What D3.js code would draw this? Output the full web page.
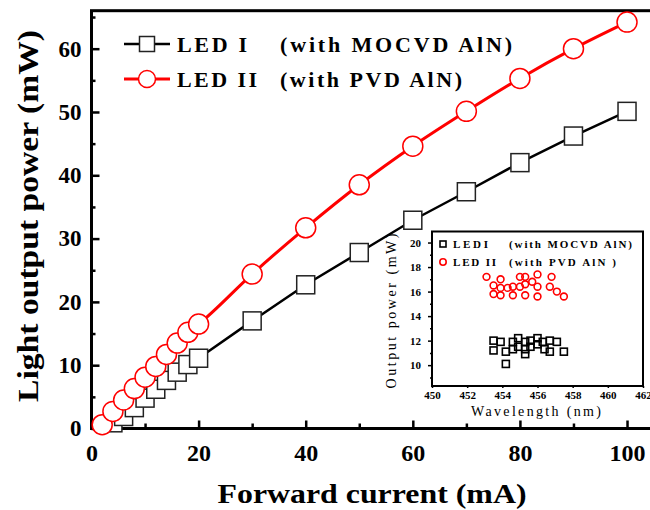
<!DOCTYPE html>
<html lang="en">
<head>
<meta charset="UTF-8">
<title>LED output power</title>
<style>
  body { margin: 0; background: #fff; }
  svg text { font-family: "Liberation Serif", "Times New Roman", "DejaVu Serif", serif; fill: #000; }
  .tick text { font-weight: bold; }
</style>
</head>
<body>
<svg id="chart"></svg>
<script src="https://cdnjs.cloudflare.com/ajax/libs/d3/7.8.5/d3.min.js"></script>
<script>
// main plot data
const currentI = [4, 6, 8, 10, 12, 14, 16, 18, 20, 30, 40, 50, 60, 70, 80, 90, 100];
const powerI = [0.9, 1.9, 3.3, 4.8, 6.2, 7.6, 8.9, 10.1, 11.1, 17.0, 22.7, 27.8, 32.9, 37.4, 42.0, 46.2, 50.1];
const currentII = [2, 4, 6, 8, 10, 12, 14, 16, 18, 20, 30, 40, 50, 60, 70, 80, 90, 100];
const powerII = [0.6, 2.7, 4.5, 6.3, 8.1, 9.8, 11.7, 13.5, 15.2, 16.5, 24.4, 31.7, 38.5, 44.6, 50.1, 55.3, 60.0, 64.2];
const seriesNames = ["LED I", "LED II"];
const seriesNotes = ["(with MOCVD AlN)", "(with PVD AlN)"];
const xTicks = [0, 20, 40, 60, 80, 100];
const yTicks = [0, 10, 20, 30, 40, 50, 60];

// inset data
const wlI = [453.5, 453.5, 453.9, 454.2, 454.2, 454.6, 454.6, 454.9, 454.9, 455.3, 455.3, 455.3, 455.6, 455.6, 456.0, 456.0, 456.3, 456.4, 456.7, 456.7, 457.1, 457.5];
const pI = [12.0, 11.2, 11.9, 10.1, 11.1, 11.9, 11.3, 12.2, 11.5, 11.9, 11.3, 10.9, 12.0, 11.5, 12.2, 11.7, 11.9, 11.3, 12.0, 11.1, 11.9, 11.1];
const wlII = [453.1, 453.5, 453.9, 453.5, 453.9, 453.9, 454.3, 454.6, 454.6, 455.0, 455.0, 455.3, 455.3, 455.3, 455.7, 456.0, 456.0, 456.0, 456.8, 456.7, 457.1, 457.5];
const pII = [17.2, 16.5, 17.0, 15.8, 15.7, 16.3, 16.3, 16.4, 15.7, 17.2, 16.4, 17.2, 16.6, 15.7, 16.8, 17.4, 16.4, 15.6, 17.2, 16.4, 16.0, 15.6];
const insetNames = ["LEDI", "LED II"];
const insetNotes = ["(with MOCVD AlN)", "(with PVD AlN )"];
const insetXTicks = [450, 452, 454, 456, 458, 460, 462];
const insetYTicks = [10, 12, 14, 16, 18, 20];

const W = 650, H = 510;
const red = "#ff0000";
const serif = "'Liberation Serif', 'Times New Roman', 'DejaVu Serif', serif";

const svg = d3.select("#chart").attr("width", W).attr("height", H);
svg.append("rect").attr("width", W).attr("height", H).attr("fill", "#fff");

const x = d3.scaleLinear().domain([0, 105]).range([91.5, 653.8]);
const y = d3.scaleLinear().domain([0, 66]).range([428.5, 10.7]);

// frame
svg.append("rect")
  .attr("x", x(0)).attr("y", y(66))
  .attr("width", x(105) - x(0)).attr("height", y(0) - y(66))
  .attr("fill", "none").attr("stroke", "#000").attr("stroke-width", 3);

// minor ticks
svg.append("g").attr("transform", `translate(0,${y(0)})`)
  .call(d3.axisBottom(x).tickValues([10, 30, 50, 70, 90]).tickSize(-5).tickFormat(""))
  .call(g => g.select(".domain").remove())
  .selectAll("line").attr("stroke-width", 2.5);
svg.append("g").attr("transform", `translate(${x(0)},0)`)
  .call(d3.axisLeft(y).tickValues([5, 15, 25, 35, 45, 55, 65]).tickSize(-4).tickFormat(""))
  .call(g => g.select(".domain").remove())
  .selectAll("line").attr("stroke-width", 2.5);

// major ticks + labels
svg.append("g").attr("transform", `translate(0,${y(0)})`)
  .call(d3.axisBottom(x).tickValues(xTicks).tickSize(-8).tickPadding(15))
  .call(g => g.attr("font-family", serif))
  .call(g => g.select(".domain").remove())
  .call(g => g.selectAll("line").attr("stroke-width", 2.5))
  .call(g => g.selectAll("text").attr("font-size", 24));
svg.append("g").attr("transform", `translate(${x(0)},0)`)
  .call(d3.axisLeft(y).tickValues(yTicks).tickSize(-8).tickPadding(10))
  .call(g => g.attr("font-family", serif))
  .call(g => g.select(".domain").remove())
  .call(g => g.selectAll("line").attr("stroke-width", 2.5))
  .call(g => g.selectAll("text").attr("font-size", 23));

// axis titles
svg.append("text")
  .attr("x", 372).attr("y", 503)
  .attr("text-anchor", "middle")
  .attr("font-size", 27).attr("font-weight", "bold")
  .attr("textLength", 309).attr("lengthAdjust", "spacingAndGlyphs")
  .text("Forward current (mA)");
svg.append("text")
  .attr("transform", "translate(38,216) rotate(-90)")
  .attr("text-anchor", "middle")
  .attr("font-size", 30).attr("font-weight", "bold")
  .attr("textLength", 372).attr("lengthAdjust", "spacingAndGlyphs")
  .text("Light output power (mW)");

// series
const dataI = currentI.map((c, i) => ({ x: c, y: powerI[i] }));
const dataII = currentII.map((c, i) => ({ x: c, y: powerII[i] }));

svg.append("path").datum(dataI)
  .attr("fill", "none").attr("stroke", "#000").attr("stroke-width", 2.5)
  .attr("d", d3.line().x(d => x(d.x)).y(d => y(d.y)));

const sq = 18;
svg.append("g").selectAll("rect").data(dataI).join("rect")
  .attr("x", d => x(d.x) - sq / 2).attr("y", d => y(d.y) - sq / 2)
  .attr("width", sq).attr("height", sq)
  .attr("fill", "#fff").attr("stroke", "#222").attr("stroke-width", 1.5);

svg.append("path").datum(dataII)
  .attr("fill", "none").attr("stroke", red).attr("stroke-width", 3)
  .attr("d", d3.line().curve(d3.curveMonotoneX).x(d => x(d.x)).y(d => y(d.y)));

svg.append("g").selectAll("circle").data(dataII).join("circle")
  .attr("cx", d => x(d.x)).attr("cy", d => y(d.y)).attr("r", 10)
  .attr("fill", "#fff").attr("stroke", red).attr("stroke-width", 1.5);

// legend
const legY = [44, 79];
seriesNames.forEach((name, i) => {
  const g = svg.append("g");
  g.append("line").attr("x1", 124).attr("x2", 170).attr("y1", legY[i]).attr("y2", legY[i])
    .attr("stroke", i ? red : "#000").attr("stroke-width", i ? 3 : 2.5);
  if (i === 0) {
    g.append("rect").attr("x", 147 - 7.5).attr("y", legY[i] - 7.5).attr("width", 15).attr("height", 15)
      .attr("fill", "#fff").attr("stroke", "#222").attr("stroke-width", 1.5);
  } else {
    g.append("circle").attr("cx", 147).attr("cy", legY[i]).attr("r", 8.5)
      .attr("fill", "#fff").attr("stroke", red).attr("stroke-width", 1.5);
  }
  g.append("text").attr("x", 177).attr("y", legY[i] + 7.5)
    .attr("font-size", 22).attr("font-weight", "bold")
    .attr("textLength", i ? 80 : 70).attr("lengthAdjust", "spacing")
    .text(name);
  g.append("text").attr("x", 280).attr("y", legY[i] + 7.5)
    .attr("font-size", 22).attr("font-weight", "bold")
    .attr("textLength", i ? 182 : 232).attr("lengthAdjust", "spacing")
    .text(seriesNotes[i]);
});

// inset
const ix = d3.scaleLinear().domain([450, 462]).range([432, 643]);
const iy = d3.scaleLinear().domain([8.3, 20.9]).range([386, 231.5]);

svg.append("rect")
  .attr("x", ix(450)).attr("y", iy(20.9))
  .attr("width", ix(462) - ix(450)).attr("height", iy(8.3) - iy(20.9))
  .attr("fill", "#fff").attr("stroke", "#000").attr("stroke-width", 2);

svg.append("g").attr("transform", `translate(${ix(450)},0)`)
  .call(d3.axisLeft(iy).tickValues([9, 11, 13, 15, 17, 19]).tickSize(2).tickFormat(""))
  .call(g => g.select(".domain").remove())
  .selectAll("line").attr("stroke-width", 1.5);
svg.append("g").attr("transform", `translate(${ix(450)},0)`)
  .call(d3.axisLeft(iy).tickValues(insetYTicks).tickSize(4).tickPadding(7))
  .call(g => g.attr("font-family", serif))
  .call(g => g.select(".domain").remove())
  .call(g => g.selectAll("line").attr("stroke-width", 1.5))
  .call(g => g.selectAll("text").attr("font-size", 11));
svg.append("g").attr("transform", `translate(0,${iy(8.3)})`)
  .call(d3.axisBottom(ix).tickValues(insetXTicks).tickSize(2).tickPadding(3))
  .call(g => g.attr("font-family", serif))
  .call(g => g.select(".domain").remove())
  .call(g => g.selectAll("line").attr("stroke-width", 1.5))
  .call(g => g.selectAll("text").attr("font-size", 11));

svg.append("text")
  .attr("x", 536).attr("y", 416).attr("text-anchor", "middle")
  .attr("font-size", 14)
  .attr("textLength", 130).attr("lengthAdjust", "spacing")
  .text("Wavelength (nm)");
svg.append("text")
  .attr("transform", "translate(396,311) rotate(-90)")
  .attr("text-anchor", "middle")
  .attr("font-size", 14)
  .attr("textLength", 155).attr("lengthAdjust", "spacing")
  .text("Output power (mW)");

const insetI = wlI.map((w, i) => ({ x: w, y: pI[i] }));
const insetII = wlII.map((w, i) => ({ x: w, y: pII[i] }));

svg.append("g").selectAll("rect").data(insetI).join("rect")
  .attr("x", d => ix(d.x) - 3.5).attr("y", d => iy(d.y) - 3.5)
  .attr("width", 7).attr("height", 7)
  .attr("fill", "none").attr("stroke", "#000").attr("stroke-width", 1.6);
svg.append("g").selectAll("circle").data(insetII).join("circle")
  .attr("cx", d => ix(d.x)).attr("cy", d => iy(d.y)).attr("r", 3.4)
  .attr("fill", "none").attr("stroke", red).attr("stroke-width", 1.6);

// inset legend
const iLegY = [244, 262];
insetNames.forEach((name, i) => {
  if (i === 0) {
    svg.append("rect").attr("x", 443 - 3).attr("y", iLegY[i] - 3).attr("width", 6).attr("height", 6)
      .attr("fill", "none").attr("stroke", "#000").attr("stroke-width", 1.6);
  } else {
    svg.append("circle").attr("cx", 443).attr("cy", iLegY[i]).attr("r", 3.2)
      .attr("fill", "none").attr("stroke", red).attr("stroke-width", 1.6);
  }
  svg.append("text").attr("x", 453).attr("y", iLegY[i] + 4)
    .attr("font-size", 11).attr("font-weight", "bold")
    .attr("textLength", i ? 43 : 35).attr("lengthAdjust", "spacing")
    .text(name);
  svg.append("text").attr("x", 509).attr("y", iLegY[i] + 4)
    .attr("font-size", 11).attr("font-weight", "bold")
    .attr("textLength", i ? 107 : 123).attr("lengthAdjust", "spacing")
    .text(insetNotes[i]);
});
</script>
</body>
</html>
